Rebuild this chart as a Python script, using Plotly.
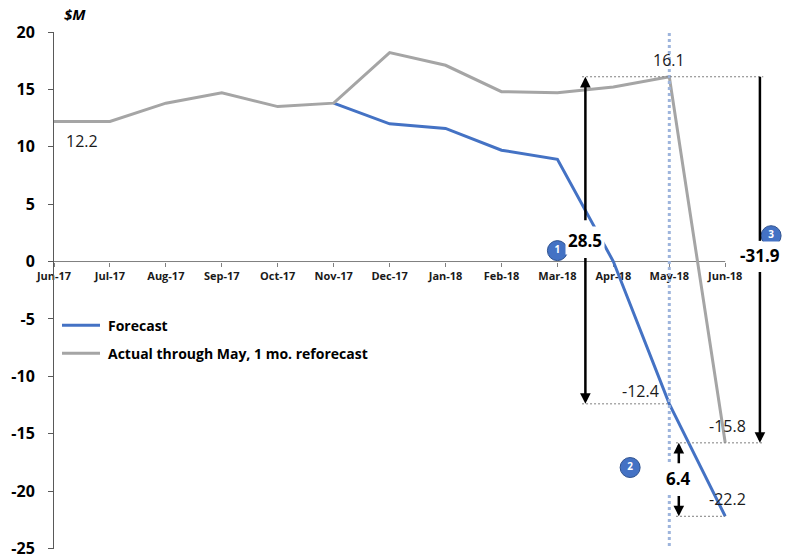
import plotly.graph_objects as go

# ---- data ($M) ----
months = ["Jun-17", "Jul-17", "Aug-17", "Sep-17", "Oct-17", "Nov-17", "Dec-17",
          "Jan-18", "Feb-18", "Mar-18", "Apr-18", "May-18", "Jun-18"]
actual = [12.2, 12.2, 13.8, 14.7, 13.5, 13.8, 18.2, 17.1, 14.8, 14.7, 15.2, 16.1, -15.8]
forecast = [None, None, None, None, None, 13.8, 12.0, 11.6, 9.7, 8.9, 0.0, -12.4, -22.2]
y_ticks = [20, 15, 10, 5, 0, -5, -10, -15, -20, -25]
y_tick_labels = ["20", "15", "10", "5", "0", "-5", "-10", "-15", "-20", "-25"]

BLUE = "#4472C4"
GRAY = "#A5A5A5"
FONT = "Open Sans"
W, H = 789, 559
ML, MR, MT, MB = 54, 0, 32, 7
Y_MIN, Y_MAX = -25.05, 20.0
X_MAX = 13.14

xs = list(range(len(months)))
i_may, i_jun = months.index("May-18"), months.index("Jun-18")

may_act, jun_act = actual[i_may], actual[i_jun]
may_fc, jun_fc = forecast[i_may], forecast[i_jun]
gap_may = may_act - may_fc          # actual vs forecast in May
swing_jun = jun_act - may_act       # reforecast drop into June
gap_jun = jun_act - jun_fc          # reforecast vs forecast in June


def px(x):
    return (x - ML) / (W - ML - MR)


def py(y):
    return (H - MB - y) / (H - MT - MB)


fig = go.Figure()
fig.add_trace(go.Scatter(x=xs, y=forecast, mode="lines", name="Forecast",
                         line=dict(color=BLUE, width=3), showlegend=False,
                         hoverinfo="skip"))
fig.add_trace(go.Scatter(x=xs, y=actual, mode="lines",
                         name="Actual through May, 1 mo. reforecast",
                         line=dict(color=GRAY, width=3), showlegend=False,
                         hoverinfo="skip"))

shapes = []
annotations = []

# x axis line at zero, across the months only
shapes.append(dict(type="line", xref="x", yref="y", x0=0, x1=len(months) - 1,
                   y0=0, y1=0, line=dict(color="#7F7F7F", width=1), layer="below"))

# May marker line
shapes.append(dict(type="line", xref="x", yref="paper", x0=i_may, x1=i_may,
                   y0=0.006, y1=1.0, line=dict(color="#9DB4DC", width=3, dash="dot")))

# thin reference lines
ref = dict(color="#7F7F7F", width=1, dash="2px,2px")
shapes += [
    dict(type="line", xref="x", yref="y", x0=9.44, x1=12.68, y0=may_act, y1=may_act, line=ref),
    dict(type="line", xref="x", yref="y", x0=9.44, x1=i_may, y0=may_fc, y1=may_fc, line=ref),
    dict(type="line", xref="x", yref="y", x0=11.12, x1=12.68, y0=jun_act, y1=jun_act, line=ref),
    dict(type="line", xref="x", yref="y", x0=11.12, x1=i_jun, y0=jun_fc, y1=jun_fc, line=ref),
]

# upper stem of the June swing bracket (no head)
shapes.append(dict(type="line", xref="x", yref="y", x0=12.62, x1=12.62,
                   y0=may_act, y1=1.8, line=dict(color="black", width=2.5)))


def arrow(x, y_head, y_tail):
    annotations.append(dict(x=x, y=y_head, ax=x, ay=y_tail, xref="x", yref="y",
                            axref="x", ayref="y", text="", showarrow=True,
                            arrowhead=2, arrowsize=0.85, arrowwidth=2.5,
                            arrowcolor="black", standoff=0, startstandoff=0))


arrow(9.5, may_act, 3.47)
arrow(9.5, may_fc, 0.43)
arrow(12.62, jun_act, -0.78)
arrow(11.17, jun_act, -17.7)
arrow(11.17, jun_fc, -20.3)


def big_label(x, y, value):
    annotations.append(dict(x=x, y=y, xref="x", yref="y", text=f"<b>{value:.1f}</b>",
                            showarrow=False, bgcolor="white", borderpad=2,
                            font=dict(family=FONT, size=17, color="black")))


big_label(9.5, 1.82, gap_may)
big_label(12.62, 0.55, swing_jun)
big_label(11.17, -18.9, gap_jun)


def value_label(i, v, xshift=0, yshift=0, xanchor="center"):
    annotations.append(dict(x=i, y=v, xref="x", yref="y", text=f"{v:.1f}",
                            showarrow=False, xshift=xshift, yshift=yshift,
                            xanchor=xanchor,
                            font=dict(family=FONT, size=16, color="#1A1A1A")))


value_label(0, actual[0], xshift=10, yshift=-19, xanchor="left")
value_label(i_may, may_act, yshift=17)
value_label(i_may, may_fc, xshift=-8, yshift=13, xanchor="right")
value_label(i_jun, jun_act, xshift=2, yshift=17)
value_label(i_jun, jun_fc, xshift=2, yshift=17)

# numbered callouts
fig.add_trace(go.Scatter(x=[9.0, 10.3, 12.82], y=[0.95, -17.95, 2.25],
                         mode="markers+text", text=["<b>1</b>", "<b>2</b>", "<b>3</b>"],
                         textposition="middle center",
                         textfont=dict(family=FONT, size=10, color="white"),
                         marker=dict(size=20, color=BLUE, line=dict(color="#2F528F", width=1)),
                         showlegend=False, hoverinfo="skip", cliponaxis=False))

# unit label
annotations.append(dict(x=px(62), y=py(14), xref="paper", yref="paper",
                        xanchor="left", yanchor="middle",
                        text="<b><i>$M</i></b>", showarrow=False,
                        font=dict(family=FONT, size=15, color="black")))

# legend
for name, color, yy in [("Forecast", BLUE, 327),
                        ("Actual through May, 1 mo. reforecast", GRAY, 355)]:
    shapes.append(dict(type="line", xref="paper", yref="paper", x0=px(62), x1=px(100),
                       y0=py(yy), y1=py(yy), line=dict(color=color, width=3)))
    annotations.append(dict(x=px(106), y=py(yy), xref="paper", yref="paper",
                            text=f"<b>{name}</b>", showarrow=False, xanchor="left",
                            yanchor="middle",
                            font=dict(family=FONT, size=14, color="black")))

fig.update_layout(
    width=W, height=H,
    margin=dict(l=ML, r=MR, t=MT, b=MB),
    paper_bgcolor="white", plot_bgcolor="white",
    shapes=shapes, annotations=annotations, showlegend=False,
    xaxis=dict(range=[0, X_MAX], tickvals=xs, ticktext=[f"<b>{m}</b>" for m in months],
               showgrid=False, zeroline=False, showline=False,
               ticks="outside", ticklen=4, tickcolor="#7F7F7F",
               tickfont=dict(family=FONT, size=11, color="#1A1A1A"),
               anchor="free", position=(0 - Y_MIN) / (Y_MAX - Y_MIN),
               layer="below traces"),
    yaxis=dict(range=[Y_MIN, Y_MAX], tickvals=y_ticks,
               ticktext=[f"<b>{t}</b>" for t in y_tick_labels],
               showgrid=False, zeroline=False, showline=True, linecolor="#595959",
               linewidth=1, ticks="outside", ticklen=5, tickcolor="#595959",
               ticklabelstandoff=10, ticklabeloverflow="allow",
               tickfont=dict(family=FONT, size=16, color="black")),
)

fig.write_html("out.html")
